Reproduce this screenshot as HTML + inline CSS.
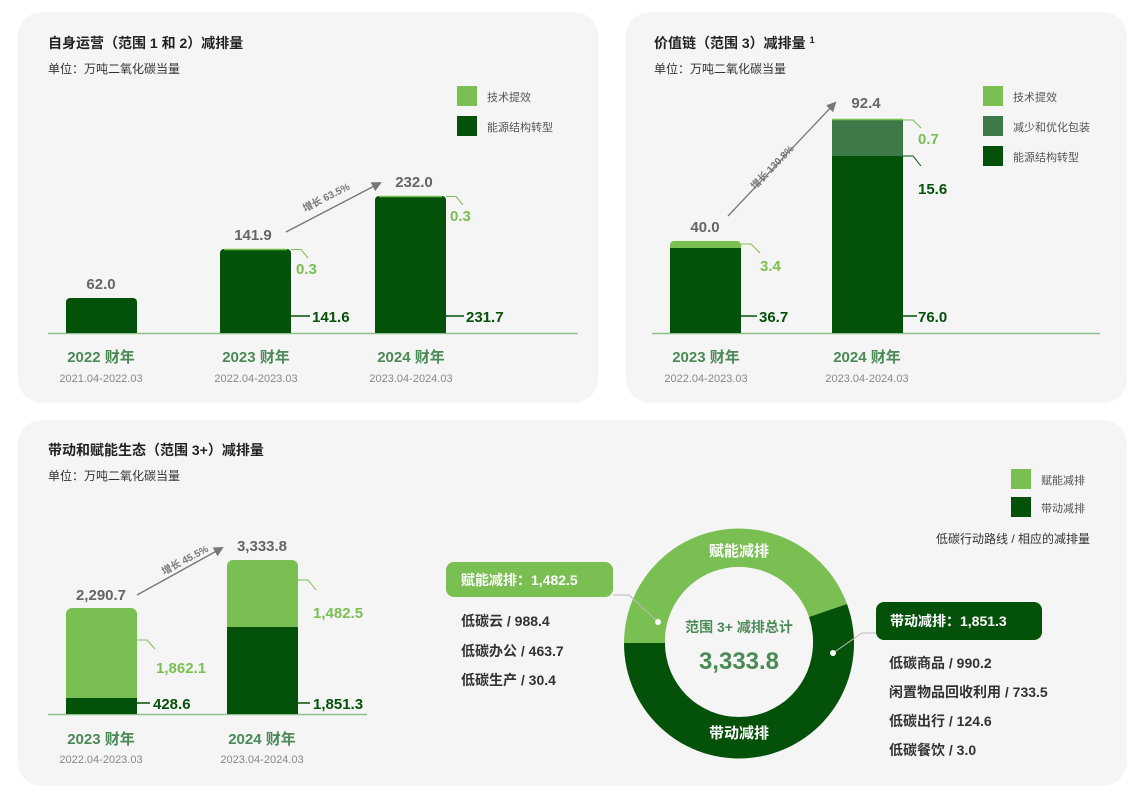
<!DOCTYPE html>
<html><head><meta charset="utf-8"><style>
body{margin:0;background:#fff;}
svg text{font-family:"Liberation Sans","Noto Sans CJK SC",sans-serif;}
</style></head><body>
<svg width="1144" height="792" viewBox="0 0 1144 792" xmlns="http://www.w3.org/2000/svg">
<defs><marker id="ar" markerWidth="10" markerHeight="10" refX="8" refY="5" orient="auto" markerUnits="userSpaceOnUse"><path d="M0,0 L10,5 L0,10 z" fill="#777"/></marker></defs>
<rect x="18" y="12" width="580" height="391" rx="24" fill="#f5f5f5"/>
<rect x="626" y="12" width="501" height="391" rx="24" fill="#f5f5f5"/>
<rect x="18" y="420" width="1109" height="366" rx="24" fill="#f5f5f5"/>

<!-- top-left -->
<text x="48" y="48" font-size="14" font-weight="bold" fill="#222">自身运营（范围 1 和 2）减排量</text>
<text x="48" y="73" font-size="12" fill="#333">单位：万吨二氧化碳当量</text>
<rect x="457" y="86" width="20" height="20" fill="#7abf52"/><text x="487" y="101" font-size="11" fill="#555">技术提效</text>
<rect x="457" y="116" width="20" height="20" fill="#045209"/><text x="487" y="131" font-size="11" fill="#555">能源结构转型</text>
<line x1="48" y1="333.5" x2="578" y2="333.5" stroke="#8fbf8f" stroke-width="1.5"/>
<path d="M66,333 V302 a4,4 0 0 1 4,-4 H133 a4,4 0 0 1 4,4 V333z" fill="#045209"/>
<path d="M220,333 V253 a4,4 0 0 1 4,-4 H287 a4,4 0 0 1 4,4 V333z" fill="#045209"/>
<path d="M375,333 V200 a4,4 0 0 1 4,-4 H442 a4,4 0 0 1 4,4 V333z" fill="#045209"/>
<line x1="224" y1="249.5" x2="287" y2="249.5" stroke="#7abf52" stroke-width="1.5"/>
<line x1="379" y1="196.5" x2="442" y2="196.5" stroke="#7abf52" stroke-width="1.5"/>
<polyline points="291,249.5 301,249.5 308,258" fill="none" stroke="#7abf52"/>
<polyline points="446,196.5 456,196.5 463,205" fill="none" stroke="#7abf52"/>
<line x1="291" y1="316" x2="310" y2="316" stroke="#045209" stroke-width="1.5"/>
<line x1="446" y1="316" x2="464" y2="316" stroke="#045209" stroke-width="1.5"/>
<g font-size="15" font-weight="bold" text-anchor="middle" fill="#666">
<text x="101" y="289">62.0</text><text x="253" y="240">141.9</text><text x="414" y="187">232.0</text></g>
<g font-size="15" font-weight="bold" fill="#7abf52"><text x="296" y="274">0.3</text><text x="450" y="221">0.3</text></g>
<g font-size="15" font-weight="bold" fill="#045209"><text x="312" y="322">141.6</text><text x="466" y="322">231.7</text></g>
<line x1="286" y1="232" x2="380" y2="183" stroke="#777" stroke-width="1.3" marker-end="url(#ar)"/>
<text x="0" y="0" font-size="10" font-weight="bold" fill="#777" transform="translate(305,212) rotate(-27)">增长 63.5%</text>
<g font-size="15" font-weight="bold" text-anchor="middle" fill="#4a8a55">
<text x="101" y="362">2022 财年</text><text x="256" y="362">2023 财年</text><text x="411" y="362">2024 财年</text></g>
<g font-size="11" text-anchor="middle" fill="#888">
<text x="101" y="382">2021.04-2022.03</text><text x="256" y="382">2022.04-2023.03</text><text x="411" y="382">2023.04-2024.03</text></g>

<!-- top-right -->
<text x="654" y="48" font-size="14" font-weight="bold" fill="#222">价值链（范围 3）减排量 <tspan font-size="9" dy="-5">1</tspan></text>
<text x="654" y="73" font-size="12" fill="#333">单位：万吨二氧化碳当量</text>
<rect x="983" y="86" width="20" height="20" fill="#7abf52"/><text x="1013" y="101" font-size="11" fill="#555">技术提效</text>
<rect x="983" y="116" width="20" height="20" fill="#3e7a48"/><text x="1013" y="131" font-size="11" fill="#555">减少和优化包装</text>
<rect x="983" y="146" width="20" height="20" fill="#045209"/><text x="1013" y="161" font-size="11" fill="#555">能源结构转型</text>
<line x1="652" y1="333.5" x2="1100" y2="333.5" stroke="#8fbf8f" stroke-width="1.5"/>
<path d="M670,333 V245 a4,4 0 0 1 4,-4 H737 a4,4 0 0 1 4,4 V333z" fill="#7abf52"/>
<rect x="670" y="248" width="71" height="85" fill="#045209"/>
<rect x="832" y="119" width="71" height="37" fill="#3e7a48"/>
<rect x="832" y="156" width="71" height="177" fill="#045209"/>
<line x1="832" y1="119.5" x2="903" y2="119.5" stroke="#7abf52" stroke-width="1.5"/>
<polyline points="741,244 751,244 760,253" fill="none" stroke="#7abf52"/>
<polyline points="903,120 913,120 921,128" fill="none" stroke="#7abf52"/>
<polyline points="903,156 913,156 921,166" fill="none" stroke="#045209"/>
<line x1="741" y1="316" x2="757" y2="316" stroke="#045209" stroke-width="1.5"/>
<line x1="903" y1="316" x2="917" y2="316" stroke="#045209" stroke-width="1.5"/>
<g font-size="15" font-weight="bold" text-anchor="middle" fill="#666"><text x="705" y="232">40.0</text><text x="866" y="108">92.4</text></g>
<g font-size="15" font-weight="bold" fill="#7abf52"><text x="760" y="271">3.4</text><text x="918" y="144">0.7</text></g>
<g font-size="15" font-weight="bold" fill="#045209"><text x="918" y="194">15.6</text><text x="759" y="322">36.7</text><text x="918" y="322">76.0</text></g>
<line x1="728" y1="216" x2="835" y2="103" stroke="#777" stroke-width="1.3" marker-end="url(#ar)"/>
<text font-size="10" font-weight="bold" fill="#777" transform="translate(755,190) rotate(-46)">增长 130.8%</text>
<g font-size="15" font-weight="bold" text-anchor="middle" fill="#4a8a55"><text x="706" y="362">2023 财年</text><text x="867" y="362">2024 财年</text></g>
<g font-size="11" text-anchor="middle" fill="#888"><text x="706" y="382">2022.04-2023.03</text><text x="867" y="382">2023.04-2024.03</text></g>

<!-- bottom -->
<text x="48" y="455" font-size="14" font-weight="bold" fill="#222">带动和赋能生态（范围 3+）减排量</text>
<text x="48" y="480" font-size="12" fill="#333">单位：万吨二氧化碳当量</text>
<rect x="1011" y="469" width="20" height="20" fill="#7abf52"/><text x="1041" y="484" font-size="11" fill="#555">赋能减排</text>
<rect x="1011" y="497" width="20" height="20" fill="#045209"/><text x="1041" y="512" font-size="11" fill="#555">带动减排</text>
<text x="1090" y="543" font-size="12" text-anchor="end" fill="#333">低碳行动路线 / 相应的减排量</text>
<line x1="48" y1="714.5" x2="367" y2="714.5" stroke="#8fbf8f" stroke-width="1.5"/>
<path d="M66,714 V614 a6,6 0 0 1 6,-6 H131 a6,6 0 0 1 6,6 V714z" fill="#7abf52"/>
<rect x="66" y="698" width="71" height="16" fill="#045209"/>
<path d="M227,714 V566 a6,6 0 0 1 6,-6 H292 a6,6 0 0 1 6,6 V714z" fill="#7abf52"/>
<rect x="227" y="627" width="71" height="87" fill="#045209"/>
<polyline points="137,640 147,640 155,649" fill="none" stroke="#7abf52"/>
<polyline points="298,580 308,580 316,590" fill="none" stroke="#7abf52"/>
<line x1="137" y1="703" x2="150" y2="703" stroke="#045209" stroke-width="1.5"/>
<line x1="298" y1="703" x2="310" y2="703" stroke="#045209" stroke-width="1.5"/>
<g font-size="15" font-weight="bold" text-anchor="middle" fill="#666"><text x="101" y="600">2,290.7</text><text x="262" y="551">3,333.8</text></g>
<g font-size="15" font-weight="bold" fill="#7abf52"><text x="156" y="673">1,862.1</text><text x="313" y="618">1,482.5</text></g>
<g font-size="15" font-weight="bold" fill="#045209"><text x="153" y="709">428.6</text><text x="313" y="709">1,851.3</text></g>
<line x1="137" y1="595" x2="222" y2="548" stroke="#777" stroke-width="1.3" marker-end="url(#ar)"/>
<text font-size="10" font-weight="bold" fill="#777" transform="translate(164,575) rotate(-28)">增长 45.5%</text>
<g font-size="15" font-weight="bold" text-anchor="middle" fill="#4a8a55"><text x="101" y="744">2023 财年</text><text x="262" y="744">2024 财年</text></g>
<g font-size="11" text-anchor="middle" fill="#888"><text x="101" y="763">2022.04-2023.03</text><text x="262" y="763">2023.04-2024.03</text></g>

<!-- donut -->
<path d="M624,643 A115,115 0 0 1 847,604 L809,617 A74,74 0 0 0 665,643 Z" fill="#7abf52"/>
<path d="M847,604 A115,115 0 1 1 624,643 L665,643 A74,74 0 1 0 809,617 Z" fill="#045209"/>
<circle cx="739" cy="643" r="74" fill="#f5f5f5"/>
<text x="739" y="556" font-size="15" font-weight="bold" fill="#fff" text-anchor="middle">赋能减排</text>
<text x="739" y="738" font-size="15" font-weight="bold" fill="#fff" text-anchor="middle">带动减排</text>
<text x="739" y="632" font-size="14" font-weight="bold" fill="#4a8a55" text-anchor="middle">范围 3+ 减排总计</text>
<text x="739" y="669" font-size="24" font-weight="bold" fill="#4a8a55" text-anchor="middle">3,333.8</text>
<polyline points="613,595 629,595 658,622" fill="none" stroke="#bbb"/>
<circle cx="658" cy="622" r="3" fill="#fff"/>
<polyline points="876,633 862,633 833,653" fill="none" stroke="#bbb"/>
<circle cx="833" cy="653" r="3" fill="#fff"/>
<rect x="446" y="562" width="167" height="35" rx="8" fill="#7abf52"/>
<text x="461" y="585" font-size="14" font-weight="bold" fill="#fff">赋能减排：1,482.5</text>
<rect x="876" y="602" width="166" height="38" rx="8" fill="#045209"/>
<text x="890" y="626" font-size="14" font-weight="bold" fill="#fff">带动减排：1,851.3</text>
<g font-size="14" font-weight="bold" fill="#333">
<text x="461" y="626">低碳云 / 988.4</text><text x="461" y="656">低碳办公 / 463.7</text><text x="461" y="685">低碳生产 / 30.4</text>
<text x="889" y="668">低碳商品 / 990.2</text><text x="889" y="697">闲置物品回收利用 / 733.5</text><text x="889" y="726">低碳出行 / 124.6</text><text x="889" y="755">低碳餐饮 / 3.0</text></g>
</svg>
</body></html>
